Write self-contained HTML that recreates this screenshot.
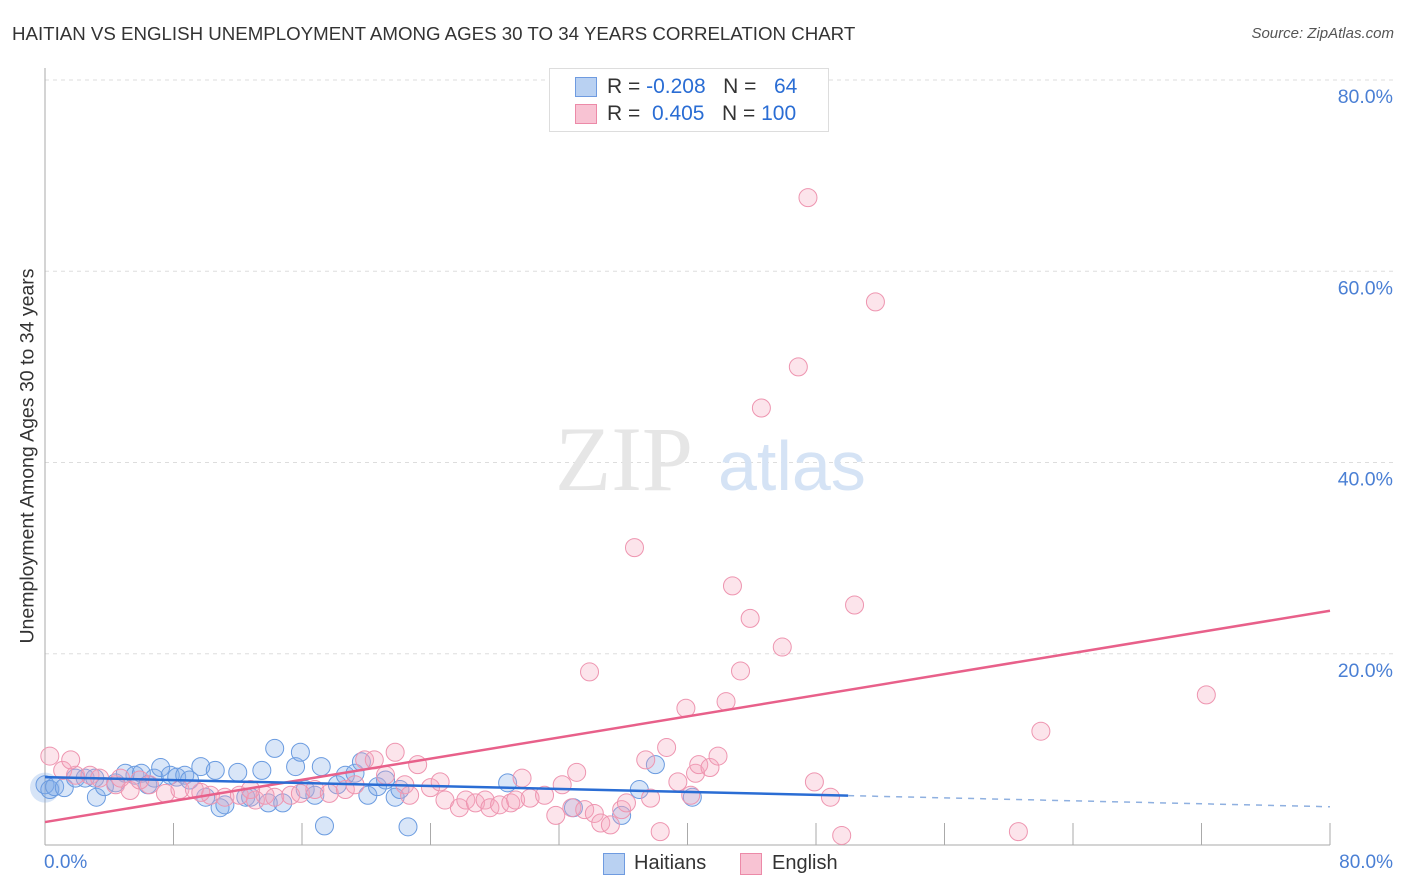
<!DOCTYPE html>
<html><head><meta charset="utf-8"><style>
body{margin:0;background:#fff;font-family:"Liberation Sans",sans-serif;}
#wrap{position:relative;width:1406px;height:892px;overflow:hidden;}
.t{position:absolute;white-space:nowrap;}
</style></head><body>
<div id="wrap">
<div class="t" style="left:12px;top:23px;font-size:18.7px;color:#333;">HAITIAN VS ENGLISH UNEMPLOYMENT AMONG AGES 30 TO 34 YEARS CORRELATION CHART</div>
<div class="t" style="right:12px;top:25px;font-size:15px;color:#555;font-style:italic;">Source: ZipAtlas.com</div>
<svg id="svg" width="1406" height="892" style="position:absolute;left:0;top:0"></svg>
</div>
<script>
const xTicksPct=[0,8,16,24,32,40,48,56,64,72,80];
const yGridPct=[20,40,60,80];
const yTickLabels=["20.0%","40.0%","60.0%","80.0%"];
const pinkX=[0.3,1.1,1.9,2.8,3.4,4.4,5.3,6.5,7.5,8.4,9.3,10.3,11.2,12.1,13.1,13.7,14.3,15.3,15.9,16.8,17.7,18.7,19.3,19.9,20.5,21.2,21.8,22.4,22.7,23.2,24.0,24.6,24.9,25.8,26.2,26.8,27.4,27.7,28.3,29.0,29.3,29.7,30.2,31.1,31.8,32.2,32.8,33.1,33.6,34.2,34.6,35.2,35.9,36.2,36.7,37.4,37.7,38.3,38.7,39.4,39.9,40.2,40.5,40.7,41.4,41.9,42.4,42.8,43.3,43.9,44.6,45.9,46.9,47.5,47.9,48.9,49.6,50.4,51.7,33.9,60.6,62.0,72.3,1.6,4.7,5.9,9.7,12.8];
const pinkY=[9.3,7.8,7.3,7.3,7.0,6.3,5.7,6.3,5.4,5.8,5.8,5.2,5.0,5.2,4.7,5.2,5.0,5.2,5.4,5.8,5.4,5.8,6.3,8.9,8.9,7.3,9.7,6.3,5.2,8.4,6.0,6.6,4.7,3.9,4.7,4.4,4.7,3.9,4.2,4.4,4.7,7.0,4.9,5.2,3.1,6.3,3.9,7.6,3.7,3.3,2.3,2.1,3.7,4.4,31.1,8.9,4.9,1.4,10.2,6.6,14.3,5.2,7.5,8.4,8.1,9.3,15.0,27.1,18.2,23.7,45.7,20.7,50.0,67.7,6.6,5.0,1.0,25.1,56.8,18.1,1.4,11.9,15.7,8.9,7.0,6.8,5.5,5.8];
const blueX=[0,0.3,0.6,1.2,1.9,2.5,3.1,3.2,3.7,4.4,5.0,5.6,6.0,6.4,6.8,7.2,7.8,8.2,8.7,9.0,9.7,10.0,10.6,10.9,11.2,12.0,12.5,12.8,13.5,13.9,14.3,14.8,15.6,15.9,16.2,16.8,17.2,17.4,18.2,18.7,19.3,19.7,20.1,20.7,21.2,21.8,22.1,22.6,28.8,32.9,35.9,37.0,38.0,40.3];
const blueY=[6.3,5.8,6.1,6.0,7.0,7.0,7.0,5.0,6.1,6.5,7.5,7.3,7.5,6.3,7.0,8.1,7.3,7.1,7.3,6.8,8.2,5.0,7.8,3.9,4.2,7.6,5.0,5.0,7.8,4.4,10.1,4.4,8.2,9.7,5.8,5.2,8.2,2.0,6.3,7.3,7.5,8.7,5.2,6.1,6.8,5.0,5.8,1.9,6.5,3.9,3.1,5.8,8.4,5.0];
const pinkTrend=[2.4,24.5];
const blueTrend=[7.1,4.0];
const blueSolidEnd=50;

const X0=45,X1=1330,Y0=845,Y80=80;
const sx=v=>X0+(X1-X0)*v/80;
const sy=v=>Y0-(Y0-Y80)*v/80;
const svg=document.getElementById('svg');
const NS='http://www.w3.org/2000/svg';
function mk(tag,attrs){const e=document.createElementNS(NS,tag);for(const k in attrs)e.setAttribute(k,attrs[k]);svg.appendChild(e);return e;}

yGridPct.forEach((v,i)=>{
 const g=mk('line',{x1:X0,x2:1395,y1:sy(v),y2:sy(v),stroke:'#ddd','stroke-dasharray':'4,4'});
 
 
 const t=mk('text',{x:1393,y:sy(v)+23,'text-anchor':'end','font-size':19.5,fill:'#4a7fd4','font-family':'Liberation Sans'});
 t.textContent=yTickLabels[i];
 
 
});
const ya=mk('line',{x1:X0,x2:X0,y1:68,y2:Y0,stroke:'#aaa'});


const xa=mk('line',{x1:X0,x2:X1,y1:Y0,y2:Y0,stroke:'#aaa'});


xTicksPct.forEach(v=>{
 const l=mk('line',{x1:sx(v),x2:sx(v),y1:823,y2:Y0,stroke:'#aaa'});
 
 
});
const w1=mk('text',{x:555,y:490,'font-size':92,fill:'#e6e6e6','font-family':'Liberation Serif'});
w1.textContent='ZIP';


const w2=mk('text',{x:718,y:490,'font-size':70,fill:'#d5e3f5','font-family':'Liberation Sans'});
w2.textContent='atlas';



const big=mk('circle',{cx:sx(0),cy:sy(6),r:15,fill:'rgba(120,165,230,0.3)',stroke:'none'});


blueX.forEach((x,i)=>{
 const c=mk('circle',{cx:sx(x),cy:sy(blueY[i]),r:9,fill:'rgba(130,172,232,0.3)',stroke:'#6a9be0','stroke-width':1});
 
 
});
pinkX.forEach((x,i)=>{
 const c=mk('circle',{cx:sx(x),cy:sy(pinkY[i]),r:9,fill:'rgba(245,165,190,0.3)',stroke:'#ee95b0','stroke-width':1});
 
 
});
const bAt=v=>blueTrend[0]+(blueTrend[1]-blueTrend[0])*v/80;
const pl=mk('line',{x1:sx(0),y1:sy(pinkTrend[0]),x2:sx(80),y2:sy(pinkTrend[1]),stroke:'#e8608a','stroke-width':2.5});


const bl=mk('line',{x1:sx(0),y1:sy(bAt(0)),x2:sx(blueSolidEnd),y2:sy(bAt(blueSolidEnd)),stroke:'#2a6dd4','stroke-width':2.5});


const bd=mk('line',{x1:sx(blueSolidEnd),y1:sy(bAt(blueSolidEnd)),x2:sx(80),y2:sy(bAt(80)),stroke:'#8fb0e0','stroke-width':1.5,'stroke-dasharray':'6,6'});


</script>
<div class="t" style="left:20px;top:456px;transform:translate(-50%,-50%) rotate(-90deg);transform-origin:center;font-size:19.5px;color:#333;margin-left:8px;">Unemployment Among Ages 30 to 34 years</div>
<div class="t" style="left:44px;top:852px;font-size:19px;color:#4a7fd4;">0.0%</div>
<div class="t" style="right:13px;top:852px;font-size:19px;color:#4a7fd4;">80.0%</div>
<div style="position:absolute;left:549px;top:68px;width:278px;height:62px;border:1px solid #ddd;background:#fff;font-size:21px;">
 <div style="position:absolute;left:25px;top:8px;width:20px;height:18px;background:#b9d1f2;border:1px solid #6f9be0;"></div>
 <div class="t" style="left:57px;top:6px;color:#333;">R = <span style="color:#2a6dd4">-0.208</span>&nbsp;&nbsp;&nbsp;N = &nbsp;&nbsp;<span style="color:#2a6dd4">64</span></div>
 <div style="position:absolute;left:25px;top:35px;width:20px;height:18px;background:#f8c3d3;border:1px solid #ec8aa8;"></div>
 <div class="t" style="left:57px;top:33px;color:#333;">R = &nbsp;<span style="color:#2a6dd4">0.405</span>&nbsp;&nbsp;&nbsp;N = <span style="color:#2a6dd4">100</span></div>
</div>
<div style="position:absolute;left:603px;top:853px;width:20px;height:20px;background:#b9d1f2;border:1px solid #6f9be0;"></div>
<div class="t" style="left:634px;top:852px;font-size:20px;color:#333;">Haitians</div>
<div style="position:absolute;left:740px;top:853px;width:20px;height:20px;background:#f8c3d3;border:1px solid #ec8aa8;"></div>
<div class="t" style="left:772px;top:852px;font-size:20px;color:#333;">English</div>
</body></html>
